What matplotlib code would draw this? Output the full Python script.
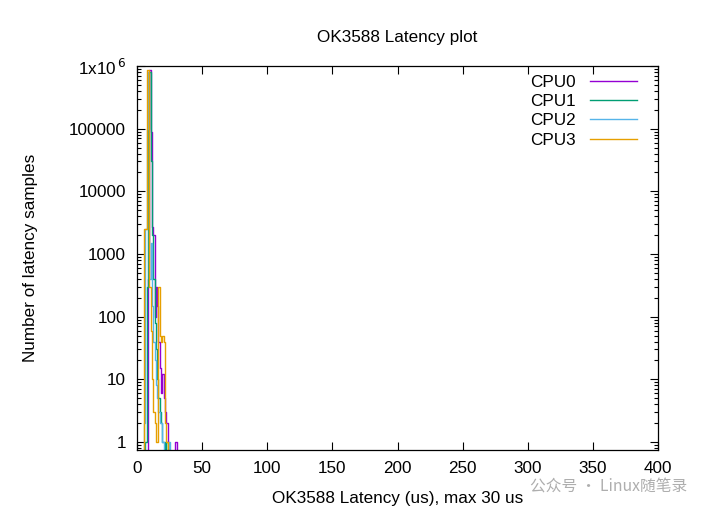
import matplotlib
matplotlib.use("Agg")
import matplotlib.pyplot as plt
import numpy as np
from matplotlib.ticker import FixedLocator, LogLocator, NullFormatter

# latency histogram, one bin per microsecond
latency_us = list(range(0, 36))
cpu0 = [0, 0, 0, 0, 0, 0, 0, 0, 0, 400, 850000, 90000, 2700, 2000, 100, 300,
        150, 40, 15, 6, 12, 5, 3, 2, 1, 0, 0, 0, 0, 0, 1, 0, 0, 0, 0, 0]
cpu1 = [0, 0, 0, 0, 0, 0, 0, 1, 300, 100000, 800000, 30000, 2000, 400, 80, 30,
        10, 5, 3, 2, 1, 1, 0, 1, 0, 0, 0, 0, 0, 0, 0, 0, 0, 0, 0, 0]
cpu2 = [0, 0, 0, 0, 0, 0, 2, 2500, 100000, 800000, 400, 1500, 150, 40, 20, 8,
        5, 3, 2, 2, 1, 0, 0, 0, 0, 1, 0, 0, 0, 0, 0, 0, 0, 0, 0, 0]
cpu3 = [0, 0, 0, 0, 0, 0, 2500, 2500, 850000, 850000, 300, 60, 10, 3, 2, 1,
        1, 300, 50, 40, 50, 40, 2, 1, 0, 0, 0, 0, 0, 0, 0, 0, 0, 0, 0, 0]

series = [("CPU0", cpu0, "#9400D3"), ("CPU1", cpu1, "#009E73"),
          ("CPU2", cpu2, "#56B4E9"), ("CPU3", cpu3, "#E69F00")]

plt.rcParams["font.family"] = ["Liberation Sans", "DejaVu Sans"]

fig = plt.figure(figsize=(7.08, 5.14), dpi=100)
ax = fig.add_axes([137 / 708, 1 - 450 / 514, 521 / 708, 384 / 514])

for name, counts, color in series:
    y = np.array(counts, dtype=float)
    y[y <= 0] = 1e-3  # empty bins fall off the bottom, like gnuplot
    ax.plot(latency_us, y, color=color, lw=1.0, label=name,
            drawstyle="steps-mid")

ax.set_yscale("log")
ax.set_xlim(0, 400)
ax.set_ylim(0.745, 1e6)
ax.set_xticks(range(0, 401, 50))
ax.yaxis.set_major_locator(FixedLocator([1, 10, 100, 1000, 1e4, 1e5, 1e6]))
ax.set_yticklabels(["1", "10", "100", "1000", "10000", "100000",
                    r"1x10$^{\,6}$"])
ax.yaxis.set_minor_locator(LogLocator(base=10, subs=np.arange(2, 10)))
ax.yaxis.set_minor_formatter(NullFormatter())
ax.tick_params(which="both", direction="in", top=True, right=True,
               labelsize=12.3, colors="black")
ax.tick_params(which="major", length=6, width=0.8, pad=8)
ax.tick_params(which="minor", length=3, width=0.8)
for s in ax.spines.values():
    s.set_linewidth(0.9)

ax.set_title("OK3588 Latency plot", fontsize=12.3, pad=17)
ax.set_xlabel("OK3588 Latency (us), max 30 us", fontsize=12.3, labelpad=11)
ax.set_ylabel("Number of latency samples", fontsize=12.3, labelpad=22)

leg = ax.legend(loc="upper right", frameon=False, fontsize=12.3,
                markerfirst=False, handlelength=2.75, handletextpad=0.8,
                labelspacing=0.25, borderaxespad=0.0,
                bbox_to_anchor=(0.972, 0.995))
for t in leg.get_texts():
    t.set_ha("right")

fig.text(530 / 708, 1 - 487 / 514, "公众号 · Linux随笔录", fontsize=11.3,
         color="#9a9a9a", va="center", alpha=0.8,
         family=["Noto Sans CJK SC", "DejaVu Sans"])

fig.savefig("out.png", dpi=100)
